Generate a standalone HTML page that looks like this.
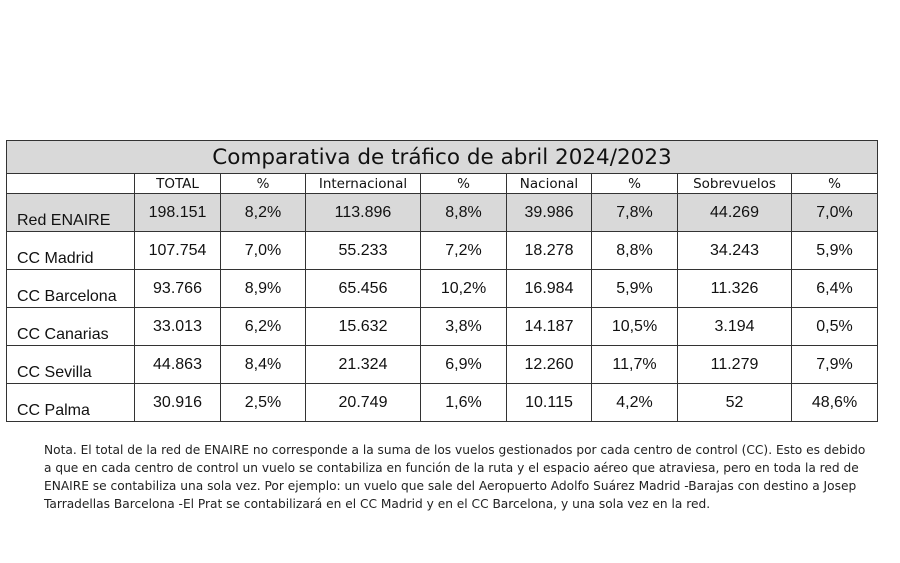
<!DOCTYPE html>
<html><head><meta charset="utf-8"><style>
body{margin:0;width:900px;height:563px;background:#fff;position:relative;overflow:hidden;font-family:"Liberation Sans",sans-serif}
table{position:absolute;left:6px;top:140px;border-collapse:collapse;table-layout:fixed}
td{border:1.5px solid #333;padding:0;text-align:center;font-size:16px;color:#111}
.t{background:#d9d9d9;font-family:"DejaVu Sans","Liberation Sans",sans-serif;font-size:21.5px;height:32px}
.h td{height:19px;font-family:"DejaVu Sans",sans-serif;font-size:13.5px;vertical-align:middle}
.r td{height:38px;vertical-align:top;padding-top:10px;box-sizing:border-box}
.r td:first-child{text-align:left;vertical-align:bottom;padding:0 0 1px 10px;font-size:16px}
.g td{background:#d9d9d9}
.note{position:absolute;left:44px;top:441px;width:860px;font-family:"DejaVu Sans",sans-serif;font-size:12.2px;line-height:18px;color:#222;white-space:nowrap}
</style></head><body>
<table>
<colgroup><col style="width:128px"><col style="width:86px"><col style="width:85px"><col style="width:115px"><col style="width:86px"><col style="width:85px"><col style="width:86px"><col style="width:114px"><col style="width:86px"></colgroup>
<tr><td class="t" colspan="9">Comparativa de tráfico de abril 2024/2023</td></tr>
<tr class="h"><td></td><td>TOTAL</td><td>%</td><td>Internacional</td><td>%</td><td>Nacional</td><td>%</td><td>Sobrevuelos</td><td>%</td></tr>
<tr class="r g"><td>Red ENAIRE</td><td>198.151</td><td>8,2%</td><td>113.896</td><td>8,8%</td><td>39.986</td><td>7,8%</td><td>44.269</td><td>7,0%</td></tr>
<tr class="r"><td>CC Madrid</td><td>107.754</td><td>7,0%</td><td>55.233</td><td>7,2%</td><td>18.278</td><td>8,8%</td><td>34.243</td><td>5,9%</td></tr>
<tr class="r"><td>CC Barcelona</td><td>93.766</td><td>8,9%</td><td>65.456</td><td>10,2%</td><td>16.984</td><td>5,9%</td><td>11.326</td><td>6,4%</td></tr>
<tr class="r"><td>CC Canarias</td><td>33.013</td><td>6,2%</td><td>15.632</td><td>3,8%</td><td>14.187</td><td>10,5%</td><td>3.194</td><td>0,5%</td></tr>
<tr class="r"><td>CC Sevilla</td><td>44.863</td><td>8,4%</td><td>21.324</td><td>6,9%</td><td>12.260</td><td>11,7%</td><td>11.279</td><td>7,9%</td></tr>
<tr class="r"><td>CC Palma</td><td>30.916</td><td>2,5%</td><td>20.749</td><td>1,6%</td><td>10.115</td><td>4,2%</td><td>52</td><td>48,6%</td></tr>
</table>
<div class="note">Nota. El total de la red de ENAIRE no corresponde a la suma de los vuelos gestionados por cada centro de control (CC). Esto es debido<br>a que en cada centro de control un vuelo se contabiliza en función de la ruta y el espacio aéreo que atraviesa, pero en toda la red de<br>ENAIRE se contabiliza una sola vez. Por ejemplo: un vuelo que sale del Aeropuerto Adolfo Suárez Madrid -Barajas con destino a Josep<br>Tarradellas Barcelona -El Prat se contabilizará en el CC Madrid y en el CC Barcelona, y una sola vez en la red.</div>
</body></html>
